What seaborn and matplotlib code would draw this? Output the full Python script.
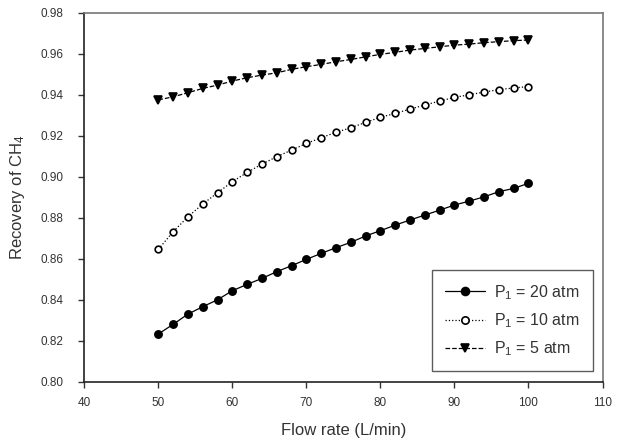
import matplotlib
matplotlib.use("Agg")
import matplotlib.pyplot as plt
import seaborn as sns
import pandas as pd

# flow rate (L/min)
flow = [50, 52, 54, 56, 58, 60, 62, 64, 66, 68, 70, 72, 74, 76, 78, 80,
        82, 84, 86, 88, 90, 92, 94, 96, 98, 100]

rec_20 = [0.8233, 0.8280, 0.8330, 0.8366, 0.8400, 0.8444, 0.8475, 0.8504,
          0.8537, 0.8566, 0.8597, 0.8626, 0.8654, 0.8680, 0.8711, 0.8737,
          0.8764, 0.8789, 0.8813, 0.8837, 0.8862, 0.8881, 0.8902, 0.8927,
          0.8943, 0.8968]
rec_10 = [0.8646, 0.8732, 0.8805, 0.8867, 0.8922, 0.8976, 0.9021, 0.9062,
          0.9098, 0.9130, 0.9163, 0.9190, 0.9217, 0.9239, 0.9265, 0.9290,
          0.9309, 0.9330, 0.9350, 0.9369, 0.9387, 0.9400, 0.9413, 0.9425,
          0.9433, 0.9440]
rec_5 = [0.9375, 0.9390, 0.9410, 0.9431, 0.9447, 0.9467, 0.9483, 0.9496,
         0.9507, 0.9524, 0.9537, 0.9548, 0.9561, 0.9572, 0.9585, 0.9597,
         0.9607, 0.9618, 0.9626, 0.9634, 0.9642, 0.9647, 0.9654, 0.9659,
         0.9664, 0.9667]

labels = ["P$_1$ = 20 atm", "P$_1$ = 10 atm", "P$_1$ = 5 atm"]

sns.set_style("ticks")
plt.rcParams['font.family'] = ['Liberation Sans', 'DejaVu Sans']
plt.rcParams['mathtext.fontset'] = 'custom'
plt.rcParams['mathtext.rm'] = 'Liberation Sans'
plt.rcParams['mathtext.it'] = 'Liberation Sans'

fig = plt.figure(figsize=(6.25, 4.4), dpi=100)
ax = fig.add_axes([0.135, 0.1325, 0.829, 0.8385])

styles = [
    dict(marker="o", linestyle="-", markerfacecolor="black", markersize=5.2),
    dict(marker="o", linestyle=":", markerfacecolor="white", markersize=4.8),
    dict(marker="v", linestyle="--", markerfacecolor="black", markersize=5.6),
]
for ys, lab, st in zip([rec_20, rec_10, rec_5], labels, styles):
    df = pd.DataFrame({"flow": flow, "rec": ys})
    sns.lineplot(data=df, x="flow", y="rec", ax=ax, color="black", label=lab,
                 linewidth=0.9, markeredgecolor="black", markeredgewidth=1.2,
                 **st)

ax.set_xlim(40, 110)
ax.set_ylim(0.80, 0.98)
ax.set_xticks(range(40, 111, 10))
ax.set_yticks([0.80 + 0.02 * i for i in range(10)])
ax.set_yticklabels([f"{0.80 + 0.02 * i:.2f}" for i in range(10)])
ax.tick_params(labelsize=8.5, colors="#333333", length=4, width=1)
ax.tick_params(axis="y", pad=11)
ax.tick_params(axis="x", pad=7)
ax.set_xlabel("Flow rate (L/min)", fontsize=12, color="#333333", labelpad=10)
ax.set_ylabel("Recovery of CH$_4$", fontsize=12, color="#333333", labelpad=10)

for side in ["left", "bottom"]:
    ax.spines[side].set_color("#222222")
    ax.spines[side].set_linewidth(1.2)
for side in ["top", "right"]:
    ax.spines[side].set_visible(True)
    ax.spines[side].set_color("#777777")
    ax.spines[side].set_linewidth(1.2)

leg = ax.legend(loc="lower right", bbox_to_anchor=(0.981, 0.029),
                borderaxespad=0, fontsize=11.5,
                frameon=True, fancybox=False, edgecolor="#333333",
                handlelength=2.5, borderpad=0.8, labelspacing=0.6,
                handletextpad=0.6, markerscale=1.1)
leg.get_frame().set_linewidth(1.0)
for t in leg.get_texts():
    t.set_color("#333333")

fig.savefig("out.png", dpi=100)
